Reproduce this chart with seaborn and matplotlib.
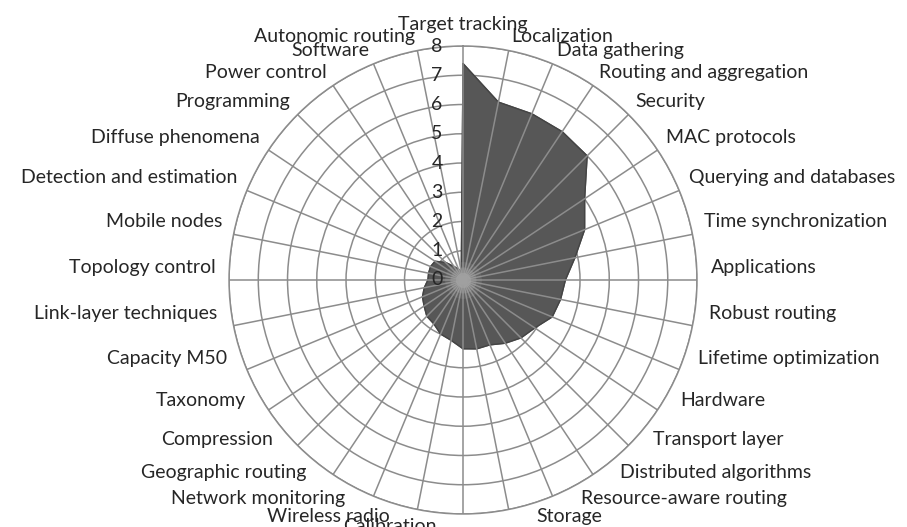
import numpy as np
import pandas as pd
import matplotlib
matplotlib.use('Agg')
import matplotlib.pyplot as plt
import seaborn as sns

categories = [
    'Target tracking', 'Localization', 'Data gathering', 'Routing and aggregation',
    'Security', 'MAC protocols', 'Querying and databases', 'Time synchronization',
    'Applications', 'Robust routing', 'Lifetime optimization', 'Hardware',
    'Transport layer', 'Distributed algorithms', 'Resource-aware routing', 'Storage',
    'Calibration', 'Wireless radio', 'Network monitoring', 'Geographic routing',
    'Compression', 'Taxonomy', 'Capacity M50', 'Link-layer techniques',
    'Topology control', 'Mobile nodes', 'Detection and estimation', 'Diffuse phenomena',
    'Programming', 'Power control', 'Software', 'Autonomic routing',
]
values = [
    7.4, 6.2, 6.15, 6.1,
    6.0, 5.0, 4.5, 3.9,
    3.5, 3.4, 3.3, 2.95,
    2.8, 2.6, 2.4, 2.4,
    2.35, 2.1, 2.0, 1.8,
    1.75, 1.6, 1.5, 1.35,
    1.2, 1.2, 1.2, 1.15,
    0.85, 0.55, 0.4, 0.3,
]
r_ticks = [0, 1, 2, 3, 4, 5, 6, 7, 8]

sns.set_theme(style='white')
plt.rcParams['font.family'] = ['Lato', 'DejaVu Sans']

n = len(categories)
theta = np.linspace(0, 2 * np.pi, n, endpoint=False)
df = pd.DataFrame({'theta': np.append(theta, 2 * np.pi),
                   'value': np.append(values, values[0])})

fig = plt.figure(figsize=(9.07, 5.27), dpi=100)
ax = fig.add_axes([0.2525, 0.0247, 0.516, 0.888], projection='polar')
ax.set_theta_zero_location('N')
ax.set_theta_direction(-1)

grid_col = '#8c8c8c'
ax.set_ylim(0, r_ticks[-1])
ax.set_xticks(theta)
ax.set_xticklabels([])
ax.set_yticks(r_ticks)
ax.set_yticklabels([])
ax.grid(True, color=grid_col, linewidth=1.1)
ax.spines['polar'].set_color(grid_col)
ax.spines['polar'].set_linewidth(1.1)
# rings under the filled area, spokes over it
ax.yaxis.set_zorder(0.5)
ax.xaxis.set_zorder(1.5)

ax.fill(df['theta'], df['value'], color='#575757', zorder=1)
sns.lineplot(data=df, x='theta', y='value', sort=False, estimator=None,
             color='#444444', linewidth=1.0, ax=ax, zorder=1.2)
# soft light spot in the middle, like the radial shading
for s, a in [(700, 0.15), (350, 0.25), (120, 0.35)]:
    ax.scatter([0], [0], s=s, color='#b0b0b0', alpha=a, linewidths=0, zorder=1.6)
ax.set_xlabel('')
ax.set_ylabel('')

# category labels around the outside (Excel pushes the lower ones sideways a bit)
txt_col = '#262626'
fs = 14
for t, lab in zip(theta, categories):
    if t == 0:
        ax.text(t, 8.45, lab, ha='center', va='bottom', fontsize=fs, color=txt_col)
        continue
    right = np.sin(t) > 1e-6
    shift = np.radians(6) * np.sin(t / 2) ** 2
    t_lab = t - shift if right else t + shift
    ax.text(t_lab, 8.48, lab, ha='left' if right else 'right', va='center',
            fontsize=fs, color=txt_col)

# radial value labels left of the top spoke
for v in r_ticks:
    ax.annotate(str(v), xy=(0, v), xytext=(-18.7, 0), textcoords='offset points',
                ha='center', va='center', fontsize=fs, color=txt_col, zorder=5)

plt.savefig('out.png', dpi=100)
